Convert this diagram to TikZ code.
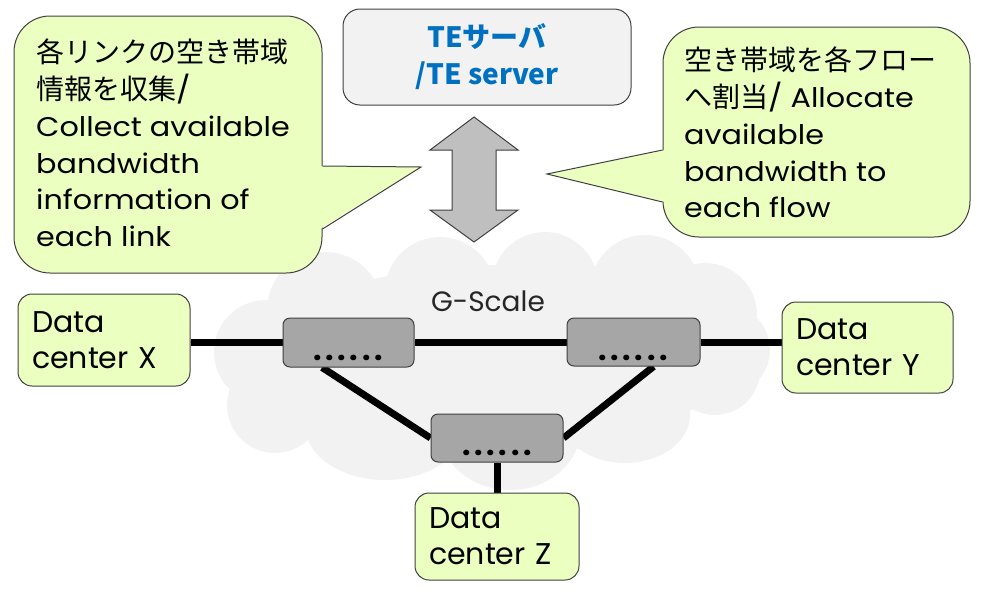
\documentclass[tikz,border=0pt]{standalone}
\usepackage{fontspec}
\setmainfont{Poppins}
\newfontfamily\widefont{Poppins}[FakeStretch=1.12]
\newfontfamily\jpfont{Noto Sans CJK JP}
\usetikzlibrary{calc,backgrounds}
\definecolor{callfill}{RGB}{235,255,192}
\definecolor{edgegray}{RGB}{64,64,64}
\definecolor{cloudgray}{RGB}{242,242,242}
\definecolor{swgray}{RGB}{166,166,166}
\definecolor{arrowgray}{RGB}{191,191,191}
\definecolor{teblue}{RGB}{0,112,192}
\definecolor{teboxfill}{RGB}{242,242,242}
\newcommand\jp[1]{{\jpfont\fontsize{28}{36.7}\selectfont #1}}
\newcommand\onedot{\makebox[12.2pt]{.}}
\newcommand\dotrow{\onedot\onedot\onedot\onedot\onedot\onedot}
\begin{document}
\begin{tikzpicture}[x=1pt,y=-1pt,
  callbox/.style={draw=edgegray, line width=1pt, fill=callfill, rounded corners=36pt, inner sep=0pt},
  calltext/.style={anchor=north west, inner sep=0pt, align=left, font=\widefont\fontsize{27}{36.7}\selectfont},
  dcbox/.style={draw=edgegray, line width=1pt, fill=callfill, rounded corners=14pt, inner xsep=14pt, inner ysep=0pt, align=left, font=\fontsize{30}{36}\selectfont},
  switchbox/.style={draw=edgegray, line width=1pt, fill=swgray, rounded corners=7pt, inner sep=0pt},
  dotlabel/.style={inner sep=0pt, font=\bfseries\fontsize{30}{30}\selectfont},
  link/.style={line width=7pt, black},
  ptr/.style={draw=edgegray, line width=1pt, line join=miter}
]
\useasboundingbox (0,0) rectangle (985,595);

% cloud
\begin{scope}[on background layer]
  \fill[cloudgray] (495,360) ellipse [x radius=230pt, y radius=95pt];
  \fill[cloudgray] (325,310) circle [radius=58pt];
  \fill[cloudgray] (440,292) circle [radius=55pt];
  \fill[cloudgray] (545,285) circle [radius=53pt];
  \fill[cloudgray] (645,290) circle [radius=55pt];
  \fill[cloudgray] (705,315) circle [radius=52pt];
  \fill[cloudgray] (725,350) circle [radius=45pt];
  \fill[cloudgray] (715,370) circle [radius=45pt];
  \fill[cloudgray] (625,415) ellipse [x radius=65pt, y radius=48pt];
  \fill[cloudgray] (510,430) ellipse [x radius=70pt, y radius=60pt];
  \fill[cloudgray] (385,425) ellipse [x radius=80pt, y radius=55pt];
  \fill[cloudgray] (275,405) circle [radius=48pt];
  \fill[cloudgray] (266,352) circle [radius=52pt];
\end{scope}

\node[font=\fontsize{28}{28}\selectfont, text=black!85] (gscale) at (488,301) {G-Scale};

% left callout
\node[callbox, minimum width=308pt, minimum height=257pt] (lcb) at (168,144.5) {};
\coordinate (ltip) at (421,167);
\fill[callfill] (320,166) -- (ltip) -- (320,229) -- cycle;
\draw[ptr] (lcb.east |- 0,166) -- (ltip) -- (lcb.east |- 0,229);
\node[calltext] (lct) at (36,39) {\jp{各リンクの空き帯域}\\ \jp{情報を収集}/\\ Collect available\\ bandwidth\\ information of\\ each link};

% right callout
\node[callbox, minimum width=307pt, minimum height=210pt] (rcb) at (816.5,132) {};
\coordinate (rtip) at (547,174);
\fill[callfill] (665,150) -- (rtip) -- (665,202) -- cycle;
\draw[ptr] (rcb.west |- 0,150) -- (rtip) -- (rcb.west |- 0,202);
\node[calltext] (rct) at (684,47) {\jp{空き帯域を各フロー}\\ \jp{へ割当}/ Allocate\\ available\\ bandwidth to\\ each flow};

% TE server
\node[draw=edgegray, line width=1pt, fill=teboxfill, rounded corners=17pt, minimum width=288pt, minimum height=96pt, inner sep=0pt] (te) at (487,57) {};
\node[inner sep=0pt, align=center, text=teblue, font=\jpfont\bfseries\fontsize{28}{37}\selectfont] (tetext) at (487,57) {TEサーバ\\/TE server};

% double arrow
\draw[draw=edgegray, fill=arrowgray, line width=1pt] (474,117) -- (518,150) -- (496,150) -- (496,210) -- (518,210) -- (474,242) -- (430,210) -- (452,210) -- (452,150) -- (430,150) -- cycle;

% switches
\node[switchbox, minimum width=131pt, minimum height=49pt] (s1) at (348.5,342.5) {};
\node[switchbox, minimum width=133pt, minimum height=48pt] (s2) at (633.5,342) {};
\node[switchbox, minimum width=132pt, minimum height=48pt] (s3) at (497,438) {};
\node[dotlabel] (d1) at (348,358) {\dotrow};
\node[dotlabel] (d2) at (633,358) {\dotrow};
\node[dotlabel] (d3) at (497,453) {\dotrow};

% data centers
\node[dcbox, text width=144pt, minimum height=92pt] (dcx) at (104,340) {Data\\center X};
\node[dcbox, text width=143pt, minimum height=91pt] (dcy) at (867.5,347.5) {Data\\center Y};
\node[dcbox, text width=136pt, minimum height=87pt] (dcz) at (497,536.5) {Data\\center Z};

% links
\begin{scope}[on background layer]
  \draw[link] (s1.west -| dcx.east) -- (s1.west);
  \draw[link] (s1.east) -- (s2.west |- s1.east);
  \draw[link] (s2.east) -- (s2.east -| dcy.west);
  \draw[link] ($(s1.south west)!0.3!(s1.south east)$) -- (s3.west);
  \draw[link] ($(s2.south west)!0.65!(s2.south east)$) -- (s3.east);
  \draw[link] (s3.south) -- (dcz.north);
\end{scope}
\end{tikzpicture}
\end{document}
